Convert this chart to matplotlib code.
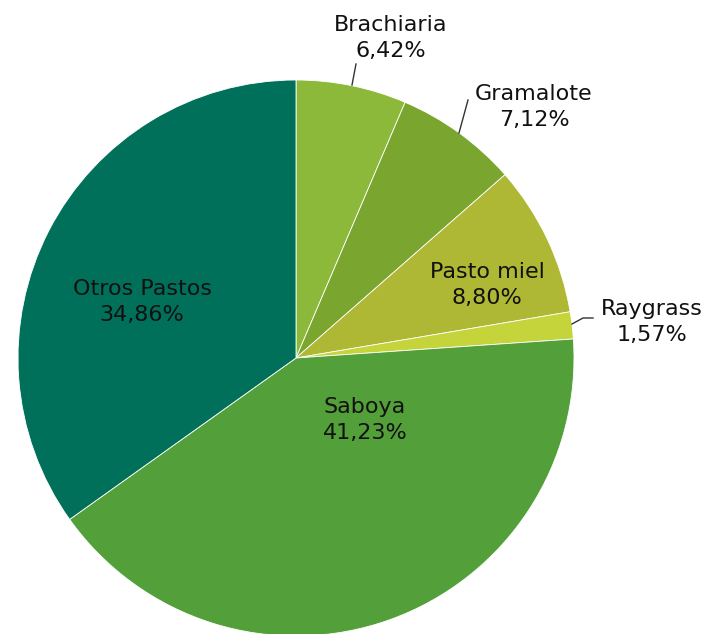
import matplotlib
matplotlib.use("Agg")
import matplotlib.pyplot as plt

categories = ["Brachiaria", "Gramalote", "Pasto miel", "Raygrass", "Saboya", "Otros Pastos"]
values = [6.42, 7.12, 8.80, 1.57, 41.23, 34.86]
value_labels = ["6,42%", "7,12%", "8,80%", "1,57%", "41,23%", "34,86%"]
colors = ["#8CB93A", "#7AA52E", "#AEB834", "#C4D43A", "#539F3A", "#00705A"]

W, H = 706, 634
cx, cy, R = 296, 358, 278

def d(px, py):
    return ((px - cx) / R, (cy - py) / R)

fig = plt.figure(figsize=(W / 100, H / 100), dpi=100)
ax = fig.add_axes([0, 0, 1, 1])
ax.pie(values, colors=colors, startangle=90, counterclock=False, radius=1,
       wedgeprops=dict(linewidth=0.6, edgecolor="white"))
x0, y0 = d(0, H)
x1, y1 = d(W, 0)
ax.set_xlim(x0, x1)
ax.set_ylim(y0, y1)
ax.set_aspect("auto")
ax.axis("off")

label_px = [(391, 38), (534, 107), (487, 285), (652, 322), (365, 420), (142, 302)]
fs = 16
for name, lab, (px, py) in zip(categories, value_labels, label_px):
    x, y = d(px, py)
    ax.text(x, y, f"{name}\n{lab}", ha="center", va="center", fontsize=fs,
            color="#111111", linespacing=1.4, family="DejaVu Sans")

lines_px = [
    [(356, 64), (352, 85)],
    [(468, 100), (459, 133)],
    [(593, 318), (583, 318), (572, 324)],
]
for pts in lines_px:
    xs, ys = zip(*[d(*p) for p in pts])
    ax.plot(xs, ys, color="#333333", linewidth=1.0)

fig.savefig("out.png", dpi=100)
